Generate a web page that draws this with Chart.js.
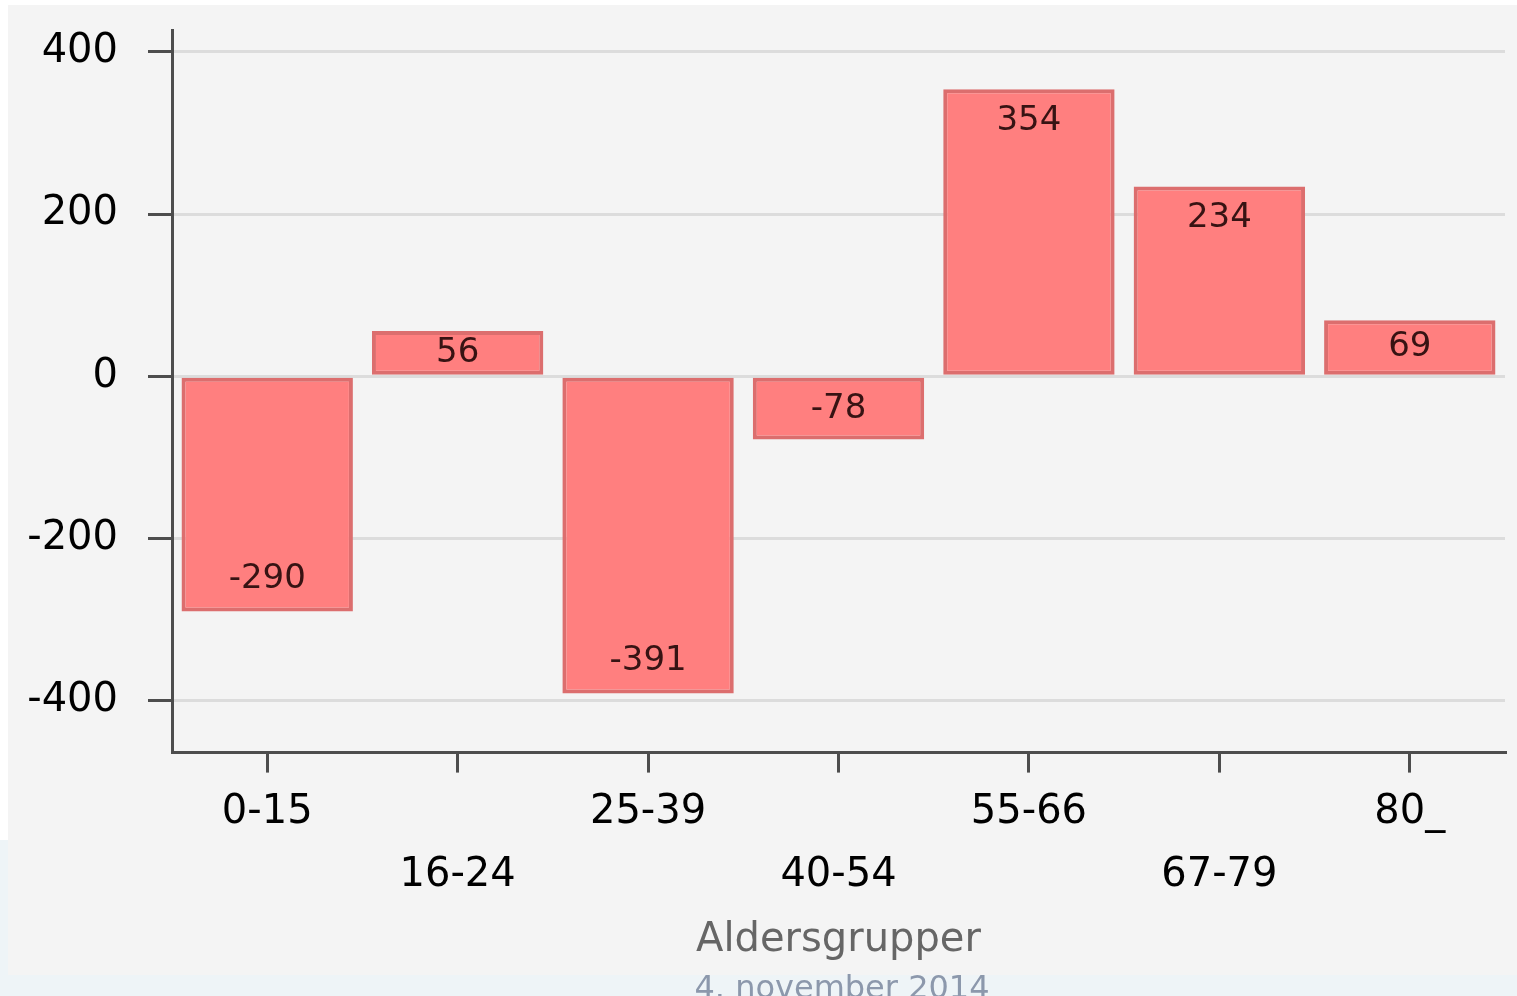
<!DOCTYPE html>
<html>
<head>
<meta charset="utf-8">
<title>Aldersgrupper</title>
<script src="https://cdn.jsdelivr.net/npm/chart.js@4.4.1/dist/chart.umd.min.js"></script>
<style>
    html, body { margin: 0; padding: 0; overflow: hidden; background: #fff; }
    #wrap { width: 1517px; height: 996px; position: relative; }
</style>
</head>
<body>
<div id="wrap"><canvas id="chart-alder"></canvas></div>
<script>
// Data lest av figuren
const aldersgrupper = ['0-15', '16-24', '25-39', '40-54', '55-66', '67-79', '80_'];
const endring = [-290, 56, -391, -78, 354, 234, 69];
const yTicks = [-400, -200, 0, 200, 400];
const yMin = -464;
const yMax = 427;
const datoTekst = '4. november 2014';

// Annenhver etikett på andre linje
const xEtiketter = aldersgrupper.map((a, i) => i % 2 ? ['', a] : [a]);

Chart.defaults.font.family = 'DejaVu Sans';

// Bakgrunn: hvit side, lys blå stripe nederst, grått panel
const bakgrunn = {
    id: 'bakgrunn',
    beforeDraw(chart) {
        const c = chart.ctx;
        c.save();
        c.fillStyle = '#ffffff';
        c.fillRect(0, 0, chart.width, chart.height);
        c.fillStyle = '#eef4f7';
        c.fillRect(0, 840, 8, chart.height - 840);
        c.fillRect(0, 975, chart.width, chart.height - 975);
        c.fillStyle = '#f4f4f4';
        c.fillRect(8, 5, chart.width - 8, 970);
        c.restore();
    }
};

// Verdier inne i stolpene
const verdiEtiketter = {
    id: 'verdiEtiketter',
    afterDatasetsDraw(chart) {
        const c = chart.ctx;
        const meta = chart.getDatasetMeta(0);
        c.save();
        c.font = '34px "DejaVu Sans"';
        c.fillStyle = 'rgba(20, 0, 0, 0.85)';
        c.textAlign = 'center';
        c.textBaseline = 'middle';
        meta.data.forEach((bar, i) => {
            const v = endring[i];
            const h = Math.abs(bar.base - bar.y);
            const off = Math.min(v >= 0 ? 32 : 32, h / 2);
            const y = v >= 0 ? bar.y + off : bar.y - off;
            c.fillText(String(v), bar.x, y);
        });
        c.restore();
    }
};

// Dato nederst (delvis utenfor kanten)
const dato = {
    id: 'dato',
    afterDraw(chart) {
        const c = chart.ctx;
        c.save();
        c.font = '32px "DejaVu Sans"';
        c.fillStyle = '#8c98ac';
        c.textAlign = 'center';
        c.textBaseline = 'alphabetic';
        c.fillText(datoTekst, 842, 998);
        c.restore();
    }
};

const ctx = document.getElementById('chart-alder').getContext('2d');
new Chart(ctx, {
    type: 'bar',
    data: {
        labels: xEtiketter,
        datasets: [{
            label: 'Endring',
            data: endring,
            backgroundColor: '#ff7f7f',
            borderColor: '#dc6e6e',
            borderWidth: 4,
            borderSkipped: false,
            barPercentage: 0.9,
            categoryPercentage: 1.0
        }]
    },
    options: {
        responsive: true,
        maintainAspectRatio: false,
        animation: false,
        layout: {
            padding: { top: 30, right: 12, bottom: 20, left: 0 }
        },
        plugins: {
            legend: { display: false },
            tooltip: { enabled: false }
        },
        scales: {
            x: {
                grid: {
                    offset: false,
                    drawOnChartArea: false,
                    drawTicks: true,
                    tickLength: 20,
                    tickColor: '#4d4d4d',
                    tickWidth: 3,
                    lineWidth: 3
                },
                border: { color: '#4d4d4d', width: 3 },
                ticks: {
                    color: '#000',
                    padding: 8,
                    maxRotation: 0,
                    autoSkip: false,
                    font: { size: 40, lineHeight: 1.58 }
                },
                title: {
                    display: true,
                    text: 'Aldersgrupper',
                    color: '#666',
                    font: { size: 40 },
                    padding: { top: 2, bottom: 11 }
                }
            },
            y: {
                min: yMin,
                max: yMax,
                afterBuildTicks(axis) {
                    axis.ticks = yTicks.map(v => ({ value: v }));
                },
                afterFit(axis) {
                    axis.width = 172;
                    axis.paddingTop = 0;
                    axis.paddingBottom = 0;
                },
                grid: {
                    color: '#dcdcdc',
                    lineWidth: 3,
                    drawTicks: true,
                    tickLength: 24,
                    tickColor: '#4d4d4d',
                    tickWidth: 3
                },
                border: { color: '#4d4d4d', width: 3 },
                ticks: {
                    color: '#000',
                    padding: 30,
                    font: { size: 40 }
                }
            }
        }
    },
    plugins: [bakgrunn, verdiEtiketter, dato]
});
</script>
</body>
</html>
